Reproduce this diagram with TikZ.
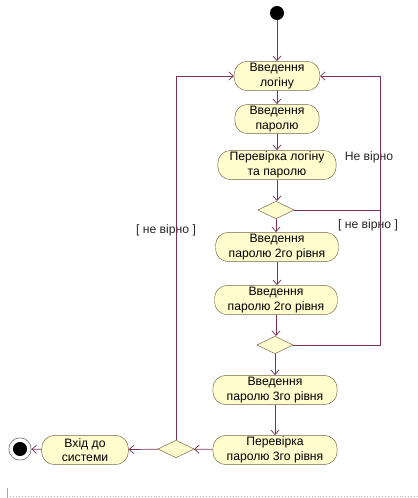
\documentclass[tikz,border=0pt]{standalone}
\usepackage{fontspec}
\setmainfont{Liberation Sans}
\usepackage{tikz}
\usetikzlibrary{shapes.geometric, arrows.meta}
\definecolor{actfill}{RGB}{255,252,206}
\definecolor{actdraw}{RGB}{120,100,70}
\definecolor{flowcol}{RGB}{120,50,90}
\tikzset{
	activity/.style={draw=actdraw, fill=actfill, rectangle, rounded corners=11pt,
		minimum height=25pt, minimum width=#1, inner sep=1pt, align=center,
		font=\fontsize{10.4}{12.5}\selectfont}
}
\tikzset{
	decision/.style={draw=actdraw, fill=actfill, diamond, minimum width=31pt,
		minimum height=15pt, inner sep=0pt}
}
\tikzset{
	flow/.style={draw=flowcol, line width=0.6pt, -{Straight Barb[length=4pt,width=7pt]}},
	plainflow/.style={draw=flowcol, line width=0.6pt},
	guard/.style={font=\fontsize{10.4}{12}\selectfont, text=black!85}
}

\begin{document}
\begin{tikzpicture}[x=0.03cm, y=-0.03cm]
      \useasboundingbox (0,0) rectangle (418,498);
      % start and end
      \node[circle, fill=black, minimum size=12pt, inner sep=0pt] (start) at (277,13) {};
      \node[circle, draw=black!70, fill=white, minimum size=19pt, inner sep=0pt] (finish) at (20,449) {};
      \node[circle, fill=black, minimum size=12pt, inner sep=0pt] (finishdot) at (finish) {};
      % activities
      \node[activity=73pt] (login) at (277,76) {Введення\\логіну};
      \node[activity=72pt] (pass) at (277,119) {Введення\\паролю};
      \node[activity=101pt] (check) at (277,165) {Перевірка логіну\\та паролю};
      \node[decision] (dec1) at (276,210) {};
      \node[activity=105pt] (passA) at (277,247) {Введення\\паролю 2го рівня};
      \node[activity=105pt] (passB) at (276,300) {Введення\\паролю 2го рівня};
      \node[decision] (dec2) at (275,345) {};
      \node[activity=106pt] (passC) at (275,390) {Введення\\паролю 3го рівня};
      \node[activity=106pt] (checkC) at (275,450) {Перевірка\\паролю 3го рівня};
      \node[decision] (dec3) at (176,449) {};
      \node[activity=74pt] (enter) at (85,450) {Вхід до\\системи};
      % guards
      \node[guard] (g1) at (369,157) {Не вірно};
      \node[guard] (g2) at (368,225) {[ не вірно ]};
      \node[guard] (g3) at (166,230) {[ не вірно ]};
      \coordinate (rline) at (380,76);
      % main flow
      \draw[flow] (start) -- (login);
      \draw[flow] (login) -- (pass);
      \draw[flow] (pass) -- (check);
      \draw[flow] (check) -- (check |- dec1.north);
      \draw[flow] (dec1) -- (dec1 |- passA.north);
      \draw[flow] (passA) -- (passA |- passB.north);
      \draw[flow] (passB) -- (passB |- dec2.north);
      \draw[flow] (dec2) -- (passC);
      \draw[flow] (passC) -- (checkC);
      \draw[flow] (checkC) -- (dec3);
      \draw[flow] (dec3) -- (enter);
      \draw[flow] (enter) -- (finish);
      % loops back
      \draw[flow] (dec1.east) -| (rline) -- (login.east);
      \draw[plainflow] (dec2.east) -| (dec1.east -| rline);
      \draw[flow] (dec3.north) |- (login.west);
      % page edge
      \draw[black!35, line width=0.5pt] (7,488) -- (7,498);
      \draw[black!30, line width=0.5pt, dotted] (10,496) -- (418,496);
    \end{tikzpicture}
\end{document}
